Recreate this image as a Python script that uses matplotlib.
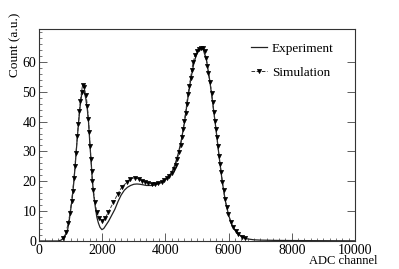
import matplotlib
matplotlib.use("Agg")
import matplotlib.pyplot as plt
from matplotlib.ticker import MultipleLocator

plt.rcParams['font.family'] = ['Liberation Serif', 'DejaVu Serif']

# Experiment (solid line)
exp_x = [0, 600, 700, 800, 900, 950, 1000, 1050, 1100, 1150, 1200, 1250, 1300, 1350, 1390,
         1430, 1480, 1530, 1570, 1610, 1650, 1690, 1730, 1780, 1830, 1880, 1930, 1990,
         2050, 2100, 2200, 2300, 2400, 2500, 2600, 2700, 2800, 2900, 3000, 3100, 3200,
         3300, 3400, 3500, 3600, 3700, 3800, 3900, 4000, 4100, 4200, 4300, 4400, 4500,
         4600, 4700, 4800, 4900, 5000, 5100, 5200, 5300, 5400, 5500, 5600, 5700, 5800,
         5900, 6000, 6100, 6200, 6300, 6400, 6500, 6600, 6800, 7000, 7500, 8000, 9000, 10000]
exp_y = [0, 0, 0.3, 1.2, 3.4, 6.4, 10.2, 14.3, 19.5, 26.0, 33.0, 39.5, 45.0, 49.0, 50.5,
         50.0, 47.8, 44.0, 39.5, 32.5, 26.5, 20.0, 15.5, 11.5, 8.0, 6.0, 4.6, 3.8,
         4.2, 5.0, 6.6, 8.6, 10.6, 13.2, 15.4, 17.0, 18.0, 18.6, 19.0, 19.1, 19.0,
         18.8, 18.6, 18.6, 18.6, 18.9, 19.2, 19.7, 20.6, 21.6, 23.0, 25.5, 29.0, 33.5,
         39.5, 47.0, 54.0, 59.5, 63.0, 64.6, 64.0, 60.6, 54.0, 46.0, 37.5, 28.3, 19.8,
         13.3, 8.7, 5.5, 3.7, 2.4, 1.6, 1.0, 0.7, 0.4, 0.3, 0.2, 0.15, 0.1, 0.05]

# Simulation (dashed line with markers)
sim_x = [770, 854, 928, 981, 1034, 1066, 1108, 1139, 1171, 1213, 1245, 1280, 1310, 1345,
         1380, 1420, 1487, 1530, 1561, 1592, 1614, 1646, 1667, 1687, 1720, 1772, 1825,
         1910, 2003, 2100, 2193, 2351, 2490, 2617, 2775, 2880, 3038, 3150, 3250, 3350,
         3459, 3570, 3671, 3780, 3883, 3960, 4041, 4120, 4199, 4260, 4320, 4380, 4430,
         4484, 4516, 4567, 4598, 4642, 4674, 4715, 4756, 4801, 4832, 4883, 4937, 5000,
         5060, 5130, 5190, 5240, 5285, 5330, 5358, 5411, 5465, 5497, 5530, 5570, 5601,
         5630, 5660, 5696, 5728, 5765, 5801, 5840, 5886, 5940, 5991, 6066, 6149, 6234,
         6307, 6415, 6519]
sim_y = [1.0, 3.0, 6.0, 9.4, 13.4, 16.6, 21.0, 25.0, 29.4, 35.0, 39.2, 43.5, 47.0, 50.0,
         52.3, 51.6, 49.0, 45.3, 40.8, 36.4, 31.9, 27.4, 23.5, 20.2, 17.0, 12.9, 9.6,
         7.6, 6.8, 7.8, 9.6, 12.9, 15.7, 18.0, 19.6, 20.8, 21.2, 20.8, 20.2, 19.7,
         19.4, 19.2, 19.1, 19.3, 19.8, 20.4, 21.0, 21.8, 22.8, 24.0, 25.5, 27.6, 29.8,
         32.0, 34.7, 37.5, 40.2, 43.0, 46.0, 49.2, 51.9, 54.7, 57.3, 60.0, 62.3, 63.6,
         64.3, 64.8, 64.5, 63.6, 61.4, 58.6, 56.4, 53.1, 49.7, 46.4, 43.3, 40.2, 37.5,
         34.7, 31.9, 28.5, 25.8, 23.0, 19.9, 17.0, 14.0, 11.3, 9.0, 6.3, 4.6, 3.4,
         2.3, 1.5, 0.9]

x_ticks = [0, 2000, 4000, 6000, 8000, 10000]
y_ticks = [0, 10, 20, 30, 40, 50, 60]

fig = plt.figure(figsize=(3.99, 2.69), dpi=100)
ax = fig.add_axes([39/399, 28/269, 316/399, 212/269])

ax.plot(exp_x, exp_y, '-', color='#222222', lw=0.9, label='Experiment')
ax.plot(sim_x, sim_y, '--', color='#333333', lw=0.7, marker='v', ms=3.0,
        mfc='black', mec='black', mew=0.5, label='Simulation')

ax.set_xlim(0, 10000)
ax.set_ylim(0, 71)
ax.set_xticks(x_ticks)
ax.set_yticks(y_ticks)
ax.xaxis.set_minor_locator(MultipleLocator(200))
ax.yaxis.set_minor_locator(MultipleLocator(2))
ax.tick_params(axis='both', which='major', direction='in', length=5.5, width=0.6,
               labelsize=10, pad=2, color='#444444')
ax.tick_params(axis='both', which='minor', direction='in', length=2.5, width=0.5,
               color='#444444')
ax.tick_params(axis='y', which='both', right=True)
ax.tick_params(axis='y', which='minor', right=False)
for s in ax.spines.values():
    s.set_linewidth(0.8)
    s.set_color('#333333')

ax.set_xlabel('ADC channel', fontsize=9, loc='right')
ax.xaxis.set_label_coords(1.07, -0.068)
ax.set_ylabel('Count (a.u.)', fontsize=9.5, loc='top')
ax.yaxis.set_label_coords(-0.055, 1.075)

ax.legend(loc='upper left', bbox_to_anchor=(0.655, 0.96), frameon=False, fontsize=9.5,
          handlelength=1.2, handletextpad=0.35, labelspacing=0.9, borderaxespad=0)

fig.savefig('out.png', dpi=100)
